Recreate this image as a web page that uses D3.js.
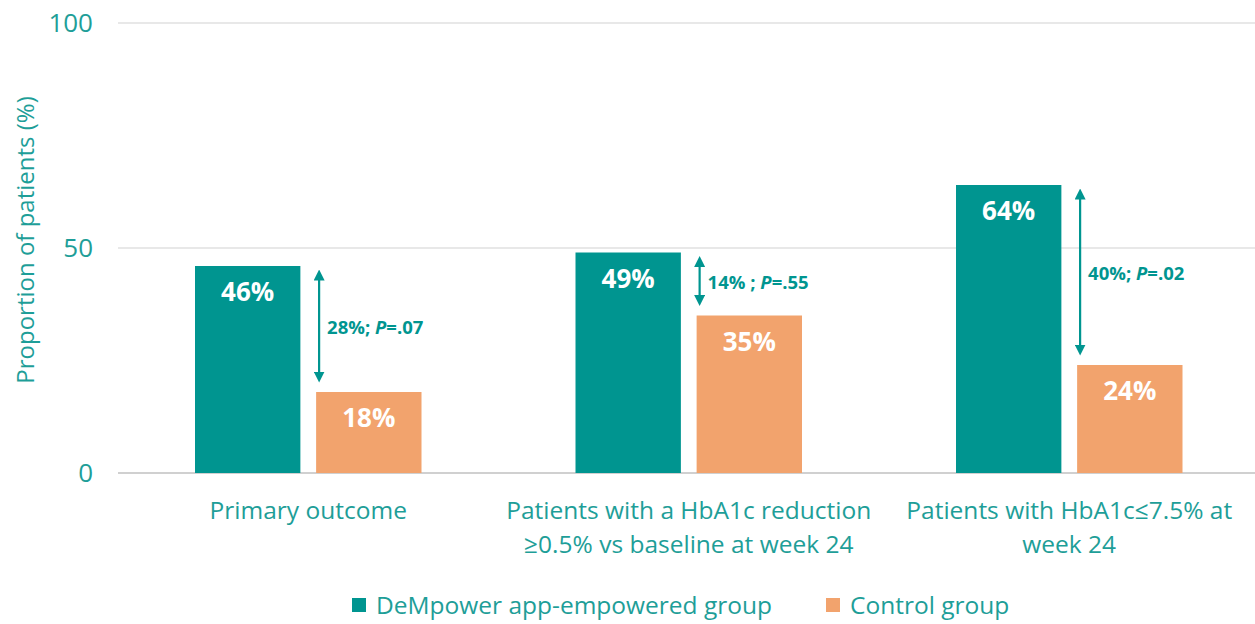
<!DOCTYPE html>
<html><head><meta charset="utf-8">
<script src="https://cdn.jsdelivr.net/npm/d3@7"></script>
<style>html,body{margin:0;padding:0;background:#fff;} svg{display:block;}</style>
</head><body>
<script>
const categories = [
  ["Primary outcome"],
  ["Patients with a HbA1c reduction", "≥0.5% vs baseline at week 24"],
  ["Patients with HbA1c≤7.5% at", "week 24"]
];
const seriesNames = ["DeMpower app-empowered group", "Control group"];
const dempower = [46, 49, 64];
const control = [18, 35, 24];
const diffLabels = [["28%; ", "P", "=.07"], ["14% ; ", "P", "=.55"], ["40%; ", "P", "=.02"]];
const yTicks = [0, 50, 100];

const W = 1255, H = 624;
const teal = "#009590", orange = "#F2A36D", textTeal = "#1E9E98";
const font = "'Open Sans', Lato, sans-serif";

const svg = d3.select("body").append("svg").attr("width", W).attr("height", H)
  .style("font-family", font);

const x = d3.scaleBand().domain(d3.range(categories.length)).range([118, 1259.5]);
const y = d3.scaleLinear().domain([0, 100]).range([473, 23]);
const inner = d3.scaleBand().domain([0, 1]).range([77, x.bandwidth() - 77]).paddingInner(0.13);

// gridlines
svg.append("g").selectAll("line").data(yTicks).join("line")
  .attr("x1", 118).attr("x2", 1255)
  .attr("y1", d => y(d)).attr("y2", d => y(d))
  .attr("stroke", d => d === 0 ? "#d0d0d0" : "#e0e0e0").attr("stroke-width", d => d === 0 ? 2 : 1.3);

// y axis tick labels
const yAxis = d3.axisLeft(y).tickValues(yTicks).tickSize(0).tickPadding(0);
const ya = svg.append("g").attr("transform", "translate(93,0)").call(yAxis);
ya.select(".domain").remove();
ya.selectAll("text").attr("fill", textTeal).style("font-size", "26px").style("font-family", font);

// y title
svg.append("text").attr("transform", "translate(34,240) rotate(-90)")
  .attr("text-anchor", "middle").attr("fill", textTeal).style("font-size", "24px")
  .text("Proportion of patients (%)");

const series = [dempower, control];
const colors = [teal, orange];

series.forEach((vals, s) => {
  const g = svg.append("g");
  g.selectAll("rect").data(vals).join("rect")
    .attr("x", (d, i) => x(i) + inner(s))
    .attr("width", inner.bandwidth())
    .attr("y", d => y(d))
    .attr("height", d => y(0) - y(d))
    .attr("fill", colors[s]);
  g.selectAll("text").data(vals).join("text")
    .attr("x", (d, i) => x(i) + inner(s) + inner.bandwidth() / 2)
    .attr("y", d => y(d) + 35)
    .attr("text-anchor", "middle").attr("fill", "#fff")
    .style("font-size", "26px").style("font-weight", "bold")
    .text(d => d + "%");
});

// arrows
const defs = svg.append("defs");
["s", "e"].forEach(k => {
  defs.append("marker").attr("id", "arr" + k).attr("viewBox", "0 0 10 10")
    .attr("refX", 5).attr("refY", 5).attr("markerWidth", 11).attr("markerHeight", 11)
    .attr("markerUnits", "userSpaceOnUse")
    .attr("orient", k === "s" ? "auto-start-reverse" : "auto")
    .append("path").attr("d", "M0,0 L10,5 L0,10 Z").attr("fill", teal);
});

categories.forEach((c, i) => {
  const ax = x(i) + inner(1) + 3;
  const y1 = y(dempower[i]) + 4, y2 = y(control[i]) - 10;
  svg.append("line").attr("x1", ax).attr("x2", ax).attr("y1", y1 + 5).attr("y2", y2 - 5)
    .attr("stroke", teal).attr("stroke-width", 2.2)
    .attr("marker-start", "url(#arrs)").attr("marker-end", "url(#arre)");
  const t = svg.append("text").attr("x", ax + 8).attr("y", (y1 + y2) / 2 + 8)
    .attr("fill", teal).style("font-size", "18.5px").style("font-weight", "bold");
  diffLabels[i].forEach((part, j) => {
    t.append("tspan").text(part).style("font-style", j === 1 ? "italic" : "normal");
  });
});

// category labels
categories.forEach((lines, i) => {
  const t = svg.append("text").attr("text-anchor", "middle").attr("fill", textTeal)
    .style("font-size", "24.5px");
  lines.forEach((l, j) => {
    t.append("tspan").attr("x", x(i) + x.bandwidth() / 2).attr("y", 519 + j * 34).text(l);
  });
});

// legend
const legX = [352, 826];
seriesNames.forEach((n, s) => {
  svg.append("rect").attr("x", legX[s]).attr("y", 598).attr("width", 14).attr("height", 14).attr("fill", colors[s]);
  svg.append("text").attr("x", legX[s] + 24).attr("y", 614).attr("fill", textTeal)
    .style("font-size", "24.5px").text(n);
});
</script>
</body></html>
